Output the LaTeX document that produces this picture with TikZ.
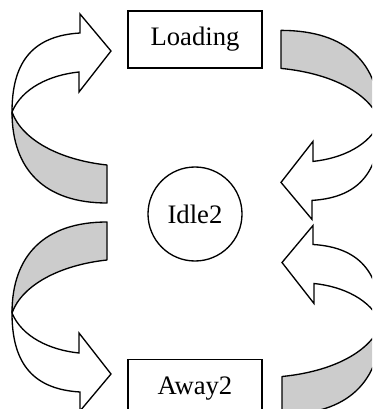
\documentclass[tikz,border=0pt]{standalone}
\usepackage{fontspec}
\setmainfont{Liberation Serif}

\tikzset{
    statebox/.style={draw=black, line width=1pt, minimum width=100.5pt, minimum height=42.75pt,
        text height=1.1em, text depth=0.2em, font=\fontsize{20}{24}\selectfont},
    statecircle/.style={draw=black, line width=1pt, circle, minimum size=70.5pt, inner sep=0pt,
        font=\fontsize{20}{24}\selectfont},
    backside/.style={draw=black, line width=1pt, fill=black!20, line join=round},
    frontside/.style={draw=black, line width=1pt, fill=white, line join=miter},
}

% one ribbon arrow, #1 = x of its tail end
\newcommand{\ribbonarrow}[1]{%
    \draw[backside] (12,112) .. controls (12,170) and (45,203) .. (#1,203) -- (#1,165)
        .. controls (60,160) and (22,140) .. (12,112) -- cycle;
    \draw[frontside] (80,33) .. controls (30,36) and (12,65) .. (12,112)
        .. controls (22,88) and (50,75) .. (79,72) -- (79,92) -- (111,51) -- (80,14) -- cycle;
}

\begin{document}
\begin{tikzpicture}[x=0.75pt, y=-0.75pt]
            \clip (0,0) rectangle (372,409);
            \fill[white] (0,0) rectangle (372,409);

            \node[statebox] (loading) at (195,39.5) {Loading};
            \node[statecircle] (idle) at (195,214) {Idle2};
            \node[statebox] (away) at (195,388) {Away2};

            % top left
            \ribbonarrow{107}
            % bottom left
            \begin{scope}[shift={(0,425)}, yscale=-1]
                \ribbonarrow{107}
            \end{scope}
            % top right
            \begin{scope}[shift={(392,233.4)}, xscale=-1, yscale=-1]
                \ribbonarrow{111}
            \end{scope}
            % bottom right
            \begin{scope}[shift={(393,211.5)}, xscale=-1]
                \ribbonarrow{111}
            \end{scope}
\end{tikzpicture}
\end{document}
